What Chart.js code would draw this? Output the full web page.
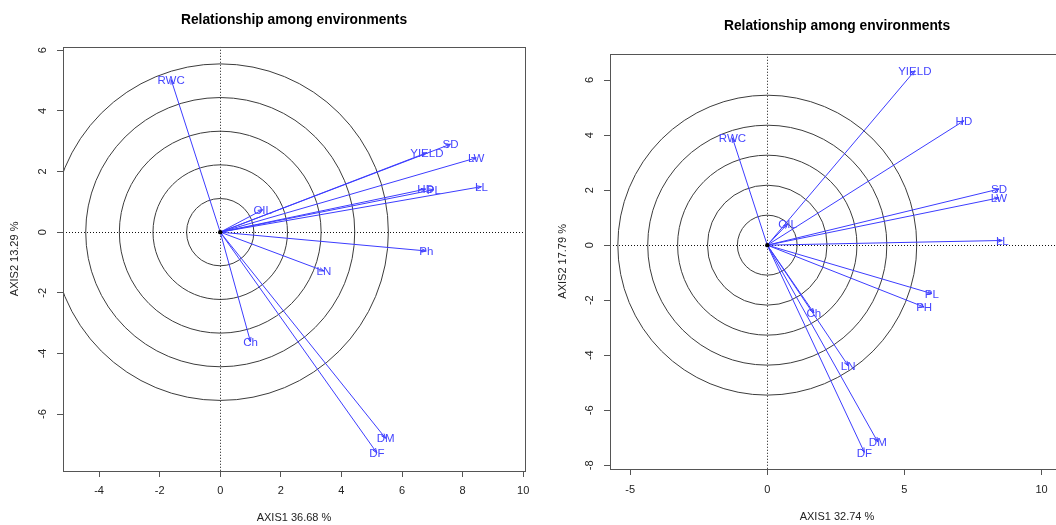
<!DOCTYPE html>
<html><head><meta charset="utf-8">
<script src="https://cdn.jsdelivr.net/npm/chart.js@4"></script>
<style>
html,body{margin:0;padding:0;background:#fff;overflow:hidden;width:1056px;height:525px;}
#c1{position:absolute;left:0;top:0;}
#c2{position:absolute;left:530px;top:0;}
</style></head><body>
<canvas id="c1" width="530" height="525"></canvas>
<canvas id="c2" width="540" height="525"></canvas>
<script>
const chartTitle = 'Relationship among environments';

const varsLeft   = ['RWC','YIELD','SD','LW','HD','PL','LL','OIL','Ph','LN','Ch','DM','DF'];
const axis1Left  = [-1.62, 6.82, 7.60, 8.45, 6.78, 7.05, 8.62, 1.40, 6.80, 3.42, 1.00, 5.46, 5.17];
const axis2Left  = [ 5.03, 2.62, 2.90, 2.45, 1.42, 1.40, 1.50, 0.74,-0.62,-1.28,-3.62,-6.80,-7.28];

const varsRight  = ['RWC','YIELD','HD','SD','LW','LL','OIL','PL','PH','Ch','LN','DM','DF'];
const axis1Right = [-1.27, 5.38, 7.17, 8.45, 8.45, 8.57, 0.74, 6.00, 5.72, 1.70, 2.95, 4.03, 3.54];
const axis2Right = [ 3.90, 6.34, 4.52, 2.04, 1.72, 0.17, 0.77,-1.76,-2.25,-2.46,-4.38,-7.15,-7.53];

const circlesLeft  = [1.11, 2.22, 3.33, 4.44, 5.55];
const circlesRight = [1.09, 2.18, 3.27, 4.36, 5.45];

const xTicksLeft  = [-4,-2,0,2,4,6,8,10];
const yTicksLeft  = [-6,-4,-2,0,2,4,6];
const xTicksRight = [-5,0,5,10];
const yTicksRight = [-8,-6,-4,-2,0,2,4,6];

const xTitleLeft  = 'AXIS1 36.68 %';
const yTitleLeft  = 'AXIS2 13.29 %';
const xTitleRight = 'AXIS1 32.74 %';
const yTitleRight = 'AXIS2 17.79 %';

const FONT = "'Liberation Sans', Arial, Helvetica, sans-serif";
const BLUE = 'rgb(60,60,255)';
const LABEL_BLUE = 'rgb(70,70,255)';

function biplotPlugin(spec) {
  return {
    id: 'biplot',
    beforeDatasetsDraw(chart) {
      const {ctx, chartArea: a, scales: {x, y}} = chart;
      ctx.save();
      ctx.beginPath(); ctx.rect(a.left, a.top, a.right - a.left, a.bottom - a.top); ctx.clip();
      const cx = x.getPixelForValue(0), cy = y.getPixelForValue(0);
      ctx.strokeStyle = '#3c3c3c'; ctx.lineWidth = 1;
      spec.circles.forEach(r => {
        const rx = Math.abs(x.getPixelForValue(r) - cx), ry = Math.abs(y.getPixelForValue(r) - cy);
        ctx.beginPath(); ctx.ellipse(cx, cy, rx, ry, 0, 0, Math.PI * 2); ctx.stroke();
      });
      ctx.setLineDash([1, 2]); ctx.strokeStyle = '#111';
      const hy = Math.round(cy) + 0.5, vx = Math.round(cx) + 0.5;
      ctx.beginPath();
      ctx.moveTo(a.left, hy); ctx.lineTo(a.right, hy);
      ctx.moveTo(vx, a.top); ctx.lineTo(vx, a.bottom);
      ctx.stroke();
      ctx.restore();
    },
    afterDatasetsDraw(chart) {
      const {ctx, scales: {x, y}} = chart;
      const cx = x.getPixelForValue(0), cy = y.getPixelForValue(0);
      ctx.save();
      spec.names.forEach((name, i) => {
        const meta = chart.getDatasetMeta(i);
        const p = meta.data[1];
        const ang = Math.atan2(p.y - cy, p.x - cx);
        const L = 5, da = 0.35;
        ctx.strokeStyle = BLUE; ctx.lineWidth = 1;
        ctx.beginPath();
        ctx.moveTo(p.x - L * Math.cos(ang - da), p.y - L * Math.sin(ang - da));
        ctx.lineTo(p.x, p.y);
        ctx.lineTo(p.x - L * Math.cos(ang + da), p.y - L * Math.sin(ang + da));
        ctx.stroke();
        ctx.fillStyle = LABEL_BLUE;
        ctx.font = '11.5px ' + FONT;
        ctx.textAlign = 'center'; ctx.textBaseline = 'middle';
        ctx.fillText(name, p.x, p.y + 1);
      });
      ctx.fillStyle = '#000';
      ctx.beginPath(); ctx.arc(cx, cy, 2.2, 0, Math.PI * 2); ctx.fill();
      ctx.restore();
    },
    afterDraw(chart) {
      const {ctx, chartArea: a, scales: {y}} = chart;
      ctx.save();
      ctx.strokeStyle = '#555'; ctx.lineWidth = 1;
      ctx.strokeRect(Math.round(a.left) + 0.5, Math.round(a.top) + 0.5,
                     Math.round(a.right - a.left), Math.round(a.bottom - a.top));
      ctx.fillStyle = '#222';
      ctx.font = '11px ' + FONT;
      ctx.textAlign = 'center'; ctx.textBaseline = 'middle';
      y.ticks.forEach(t => {
        const py = y.getPixelForValue(t.value);
        ctx.save();
        ctx.translate(a.left - 20.3, py);
        ctx.rotate(-Math.PI / 2);
        ctx.fillText(String(t.value), 0, 0);
        ctx.restore();
      });
      ctx.restore();
    }
  };
}

function makeChart(canvasId, spec) {
  const datasets = spec.names.map((n, i) => ({
    label: n,
    data: [{x: 0, y: 0}, {x: spec.ax1[i], y: spec.ax2[i]}],
    showLine: true,
    borderColor: BLUE,
    borderWidth: 1,
    pointRadius: 0,
    pointHoverRadius: 0,
    fill: false
  }));
  return new Chart(document.getElementById(canvasId), {
    type: 'scatter',
    data: {datasets},
    options: {
      responsive: false,
      animation: false,
      events: [],
      layout: {padding: {left: 0, right: spec.padRight, top: 0, bottom: 0}},
      plugins: {
        legend: {display: false},
        tooltip: {enabled: false},
        title: {
          display: true, text: chartTitle, fullSize: false,
          color: '#000',
          font: {family: FONT, size: 13.8, weight: 'bold', lineHeight: 1.2},
          padding: {top: spec.titlePadTop, bottom: spec.titlePadBottom}
        }
      },
      scales: {
        x: {
          type: 'linear', position: 'bottom',
          min: spec.xmin, max: spec.xmax,
          afterBuildTicks: s => { s.ticks = spec.xTicks.map(v => ({value: v})); },
          afterFit: s => { s.height = spec.xHeight; s.paddingLeft = 0; s.paddingRight = 0; },
          ticks: {color: '#222', font: {family: FONT, size: 11}, padding: spec.xTickPad,
                  maxRotation: 0, minRotation: 0, autoSkip: false,
                  callback: v => String(v)},
          grid: {drawOnChartArea: false, drawTicks: true, tickLength: 6, color: '#555'},
          border: {display: false},
          title: {display: true, text: spec.xTitle, color: '#222',
                  font: {family: FONT, size: 11, lineHeight: 1.2},
                  padding: {top: 0, bottom: spec.xTitlePadBottom}}
        },
        y: {
          type: 'linear', position: 'left',
          min: spec.ymin, max: spec.ymax,
          afterBuildTicks: s => { s.ticks = spec.yTicks.map(v => ({value: v})); },
          afterFit: s => { s.width = spec.yWidth; s.paddingTop = 0; s.paddingBottom = 0; },
          ticks: {display: false},
          grid: {drawOnChartArea: false, drawTicks: true, tickLength: 6, color: '#555'},
          border: {display: false},
          title: {display: true, text: spec.yTitle, color: '#222',
                  font: {family: FONT, size: 11, lineHeight: 1.2},
                  padding: {top: spec.yTitlePad, bottom: 0}}
        }
      }
    },
    plugins: [biplotPlugin(spec)]
  });
}

makeChart('c1', {
  names: varsLeft, ax1: axis1Left, ax2: axis2Left, circles: circlesLeft,
  xTicks: xTicksLeft, yTicks: yTicksLeft, xTitle: xTitleLeft, yTitle: yTitleLeft,
  xmin: -5.19, xmax: 10.06, ymin: -7.878, ymax: 6.115,
  yWidth: 63, xHeight: 54, padRight: 5,
  titlePadTop: 11.6, titlePadBottom: 18.6,
  yTitlePad: 8.4, xTitlePadBottom: 0, xTickPad: 7
});

makeChart('c2', {
  names: varsRight, ax1: axis1Right, ax2: axis2Right, circles: circlesRight,
  xTicks: xTicksRight, yTicks: yTicksRight, xTitle: xTitleRight, yTitle: yTitleRight,
  xmin: -5.735, xmax: 10.82, ymin: -8.135, ymax: 6.956,
  yWidth: 80, xHeight: 56, padRight: 6,
  titlePadTop: 18.3, titlePadBottom: 18.9,
  yTitlePad: 26.4, xTitlePadBottom: 1.7, xTickPad: 8.4
});
</script>
</body></html>
